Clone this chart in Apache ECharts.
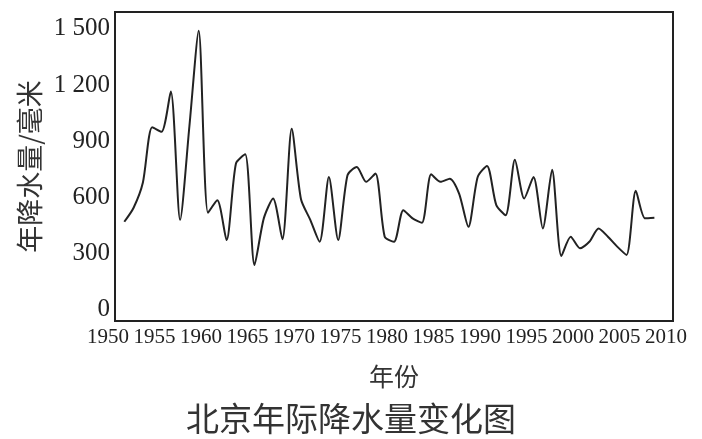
<!DOCTYPE html>
<html>
<head>
<meta charset="utf-8">
<script src="https://cdn.jsdelivr.net/npm/echarts@6/dist/echarts.min.js"></script>
<style>
html,body{margin:0;padding:0;background:#fff;}
#chart{width:702px;height:439px;}
</style>
</head>
<body>
<div id="chart"></div>
<script>
const years = [1951,1952,1953,1954,1955,1956,1957,1958,1959,1960,
  1961,1962,1963,1964,1965,1966,1967,1968,1969,1970,
  1971,1972,1973,1974,1975,1976,1977,1978,1979,1980,
  1981,1982,1983,1984,1985,1986,1987,1988,1989,1990,
  1991,1992,1993,1994,1995,1996,1997,1998,1999,2000,
  2001,2002,2003,2004,2005,2006,2007,2008];
const rainfall = [470,545,680,975,950,1165,480,980,1490,518,
  585,372,780,830,239,488,594,376,966,590,
  480,363,709,372,718,762,683,727,390,363,
  532,488,465,723,683,700,620,443,709,768,
  559,505,801,594,709,434,748,287,390,328,
  363,434,390,337,293,635,488,491];
const yTickValues = [0,300,600,900,1200,1500];
const yTickLabels = ['0','300','600','900','1 200','1 500'];
const xTickLabels = ['1950','1955','1960','1965','1970','1975','1980','1985','1990','1995','2000','2005','2010'];

const seriesData = years.map((y, i) => [y, rainfall[i]]);
const chart = echarts.init(document.getElementById('chart'));
const ink = '#222';
chart.setOption({
  animation: false,
  backgroundColor: '#fff',
  title: {
    text: '北京年际降水量变化图',
    left: 'center',
    top: 397,
    textStyle: {fontFamily: 'Noto Sans CJK SC', fontSize: 33, fontWeight: 'normal', color: '#333'}
  },
  grid: {left: 115, right: 29, top: 12, bottom: 118, show: true, borderColor: ink, borderWidth: 2},
  xAxis: {
    type: 'value', min: 1950, max: 2010, interval: 5,
    name: '年份', nameLocation: 'middle', nameGap: 43,
    nameTextStyle: {fontFamily: 'Noto Sans CJK SC', fontSize: 25, color: '#333'},
    axisLine: {show: false}, axisTick: {show: false}, splitLine: {show: false},
    axisLabel: {
      margin: 6, color: ink, fontFamily: 'Liberation Serif', fontSize: 21,
      padding: [0, 14, 0, 0],
      formatter: v => { const i = xTickLabels.indexOf(String(v)); return i >= 0 ? xTickLabels[i] : ''; }
    }
  },
  yAxis: {
    type: 'value', min: -60, max: 1590, interval: 30,
    name: '年降水量/毫米', nameLocation: 'middle', nameGap: 70, nameRotate: 90,
    nameTextStyle: {fontFamily: 'Noto Sans CJK SC', fontSize: 27, color: '#333'},
    axisLine: {show: false}, axisTick: {show: false}, splitLine: {show: false},
    axisLabel: {
      margin: 5, color: ink, fontFamily: 'Liberation Serif', fontSize: 25,
      formatter: v => { const i = yTickValues.indexOf(v); return i >= 0 ? yTickLabels[i] : ''; }
    }
  },
  series: [{
    type: 'line', data: seriesData, smooth: 0.25, symbol: 'none',
    lineStyle: {color: ink, width: 2}
  }]
});
</script>
</body>
</html>
